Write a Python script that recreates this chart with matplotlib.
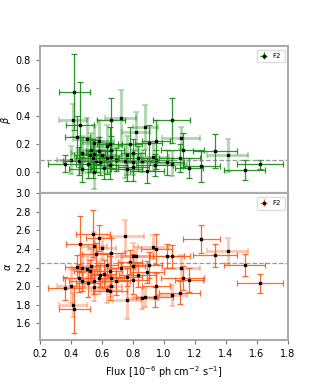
import numpy as np
import matplotlib
matplotlib.use("Agg")
import matplotlib.pyplot as plt

# flux bins (10^-6 ph cm^-2 s^-1) and half-widths
flux = [0.36, 0.40, 0.41, 0.42, 0.44, 0.45, 0.46, 0.47, 0.47, 0.50,
        0.51, 0.52, 0.53, 0.54, 0.55, 0.55, 0.55, 0.56, 0.58, 0.58,
        0.59, 0.60, 0.61, 0.63, 0.63, 0.65, 0.65, 0.66, 0.66, 0.66,
        0.69, 0.72, 0.75, 0.76, 0.76, 0.78, 0.80, 0.80, 0.80, 0.82,
        0.83, 0.86, 0.88, 0.89, 0.90, 0.93, 0.94, 0.95, 0.95, 1.02,
        1.05, 1.05, 1.10, 1.11, 1.12, 1.16, 1.24, 1.33, 1.41, 1.52, 1.62]
flux_err = [0.11, 0.09, 0.09, 0.10, 0.08, 0.10, 0.09, 0.07, 0.08, 0.09,
            0.08, 0.10, 0.09, 0.11, 0.08, 0.07, 0.10, 0.09, 0.08, 0.10,
            0.06, 0.09, 0.08, 0.07, 0.10, 0.11, 0.08, 0.09, 0.07, 0.08,
            0.09, 0.10, 0.12, 0.10, 0.09, 0.08, 0.11, 0.08, 0.10, 0.09,
            0.12, 0.10, 0.08, 0.11, 0.09, 0.10, 0.12, 0.09, 0.10, 0.11,
            0.12, 0.10, 0.13, 0.12, 0.14, 0.09, 0.12, 0.14, 0.13, 0.13, 0.15]

alpha = [1.975, 2.00, 1.80, 1.75, 2.21, 2.09, 2.45, 2.20, 2.05, 2.18,
         2.03, 2.16, 2.22, 2.565, 2.43, 2.05, 1.99, 2.34, 2.52, 2.09,
         2.12, 2.41, 2.13, 2.23, 1.96, 1.95, 2.16, 2.36, 2.00, 2.09,
         2.05, 2.20, 2.54, 2.10, 1.85, 2.26, 2.32, 2.22, 2.07, 2.32,
         2.12, 1.87, 1.88, 2.15, 2.23, 2.42, 1.88, 2.00, 2.40, 2.32,
         2.32, 1.90, 1.93, 2.19, 2.09, 2.07, 2.51, 2.33, 2.38, 2.23, 2.03]
alpha_err = [0.12, 0.18, 0.13, 0.25, 0.12, 0.15, 0.30, 0.15, 0.10, 0.14,
             0.15, 0.12, 0.18, 0.25, 0.15, 0.13, 0.15, 0.12, 0.14, 0.18,
             0.13, 0.12, 0.15, 0.12, 0.14, 0.10, 0.16, 0.16, 0.12, 0.10,
             0.15, 0.14, 0.17, 0.10, 0.20, 0.13, 0.14, 0.12, 0.16, 0.10,
             0.13, 0.12, 0.10, 0.12, 0.14, 0.13, 0.11, 0.14, 0.16, 0.13,
             0.12, 0.11, 0.12, 0.14, 0.13, 0.13, 0.15, 0.12, 0.14, 0.12, 0.10]

beta = [0.06, 0.09, 0.37, 0.57, 0.25, 0.08, 0.34, 0.14, 0.02, 0.24,
        0.06, 0.12, 0.16, 0.10, 0.21, 0.13, 0.00, 0.08, 0.15, 0.22,
        0.07, 0.12, 0.03, 0.10, 0.19, 0.05, 0.20, 0.37, 0.11, 0.16,
        0.09, 0.39, 0.08, 0.02, 0.12, 0.20, 0.07, 0.14, 0.04, 0.29,
        0.10, 0.08, 0.32, 0.01, 0.21, 0.11, 0.05, 0.22, 0.09, 0.07,
        0.37, 0.06, 0.10, 0.245, 0.16, 0.03, 0.043, 0.15, 0.12, 0.015, 0.055]
beta_err = [0.06, 0.10, 0.12, 0.27, 0.15, 0.10, 0.30, 0.12, 0.09, 0.15,
            0.10, 0.12, 0.12, 0.14, 0.13, 0.10, 0.12, 0.08, 0.10, 0.15,
            0.09, 0.10, 0.08, 0.11, 0.15, 0.10, 0.12, 0.16, 0.09, 0.10,
            0.08, 0.20, 0.12, 0.08, 0.14, 0.12, 0.09, 0.10, 0.10, 0.14,
            0.09, 0.08, 0.16, 0.09, 0.13, 0.10, 0.08, 0.15, 0.07, 0.09,
            0.16, 0.09, 0.10, 0.08, 0.12, 0.07, 0.11, 0.12, 0.12, 0.07, 0.03]

# 1 = drawn with the pale thick bars
pale = [0, 1, 1, 0, 0, 0, 0, 1, 0, 1,
        0, 0, 1, 0, 1, 0, 1, 0, 0, 1,
        0, 1, 0, 0, 1, 0, 0, 0, 1, 0,
        0, 1, 1, 0, 1, 0, 1, 0, 0, 1,
        0, 1, 1, 0, 0, 1, 0, 0, 0, 0,
        0, 1, 0, 1, 0, 0, 0, 0, 1, 0, 0]

beta_mean = 0.085
alpha_mean = 2.25

flux = np.array(flux); flux_err = np.array(flux_err)
alpha = np.array(alpha); alpha_err = np.array(alpha_err)
beta = np.array(beta); beta_err = np.array(beta_err)
pale = np.array(pale, dtype=bool)

plt.rcParams['font.size'] = 7
fig = plt.figure(figsize=(3.2, 3.84), dpi=100)
ax1 = fig.add_axes([0.125, 0.497, 0.775, 0.383])
ax2 = fig.add_axes([0.125, 0.1146, 0.775, 0.3824], sharex=ax1)


def draw(ax, y, yerr, col, mean):
    m = pale
    ax.errorbar(flux[m], y[m], xerr=flux_err[m], yerr=yerr[m], fmt='none',
                ecolor=col, alpha=0.35, elinewidth=2.0, capsize=2, capthick=1.2)
    ax.errorbar(flux[~m], y[~m], xerr=flux_err[~m], yerr=yerr[~m], fmt='none',
                ecolor=col, alpha=0.9, elinewidth=0.9, capsize=2, capthick=0.9)
    ax.plot(flux, y, 's', ms=1.6, color='k')
    ax.axhline(mean, color='gray', ls='--', lw=0.9, alpha=0.8)
    leg_h = ax.errorbar([], [], xerr=[], yerr=[], fmt='s', ms=1.6, color='k',
                        ecolor=col, elinewidth=1, capsize=2)
    ax.legend([leg_h], ['F2'], loc='upper right', fontsize=5, handlelength=1,
              borderpad=0.5, framealpha=1, edgecolor='#dddddd')
    for s in ax.spines.values():
        s.set_color('#aaaaaa')
        s.set_linewidth(1.5)
    ax.tick_params(colors='#777777', labelcolor='black', width=0.8, length=3)


draw(ax1, beta, beta_err, '#138a13', beta_mean)
draw(ax2, alpha, alpha_err, '#ff5a1a', alpha_mean)

ax1.set_ylim(-0.15, 0.9)
ax1.set_yticks([0.0, 0.2, 0.4, 0.6, 0.8])
ax1.set_ylabel(r'$\beta$', labelpad=2)
plt.setp(ax1.get_xticklabels(), visible=False)

ax2.set_xlim(0.2, 1.8)
ax2.set_ylim(1.42, 3.0)
ax2.set_yticks([1.6, 1.8, 2.0, 2.2, 2.4, 2.6, 2.8, 3.0])
ax2.set_xticks([0.2, 0.4, 0.6, 0.8, 1.0, 1.2, 1.4, 1.6, 1.8])
ax2.set_ylabel(r'$\alpha$', labelpad=2)
ax2.set_xlabel(r'Flux [$10^{-6}$ ph cm$^{-2}$ s$^{-1}$]')

fig.savefig('out.png', dpi=100)
